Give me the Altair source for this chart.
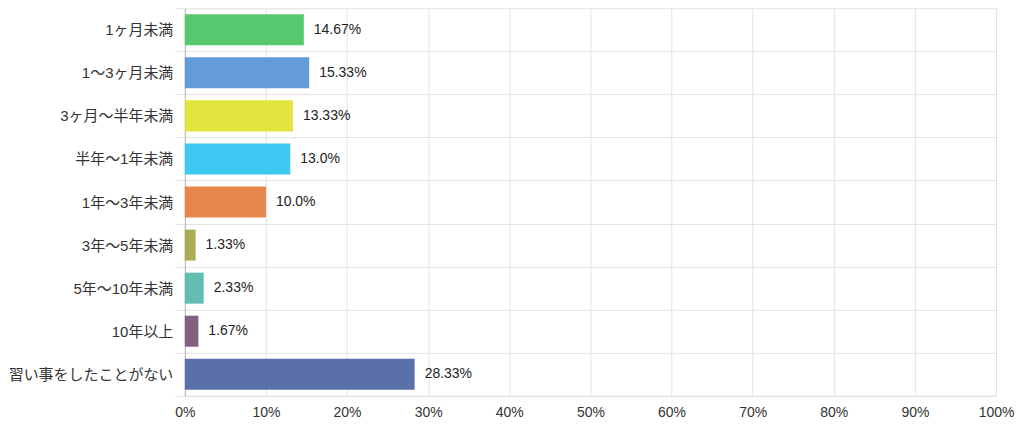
import altair as alt
import pandas as pd

categories = ["1ヶ月未満", "1〜3ヶ月未満", "3ヶ月〜半年未満", "半年〜1年未満", "1年〜3年未満",
              "3年〜5年未満", "5年〜10年未満", "10年以上", "習い事をしたことがない"]
values = [14.67, 15.33, 13.33, 13.0, 10.0, 1.33, 2.33, 1.67, 28.33]
labels = ["14.67%", "15.33%", "13.33%", "13.0%", "10.0%", "1.33%", "2.33%", "1.67%", "28.33%"]
colors = ["#4dc565", "#5b96d9", "#e1e333", "#33c6f1", "#e67f41",
          "#a7a84b", "#5bb9ad", "#7d5877", "#5068a4"]
x_ticks = [0, 10, 20, 30, 40, 50, 60, 70, 80, 90, 100]

df = pd.DataFrame({"cat": categories, "value": values, "label": labels})

FONT = "Liberation Sans, Noto Sans CJK JP, sans-serif"

y_enc = alt.Y(
    "cat:N", sort=categories, title=None,
    scale=alt.Scale(paddingInner=0, paddingOuter=0),
    axis=alt.Axis(tickBand="extent", grid=True, gridColor="#e3e3e3", ticks=True,
                  tickSize=10, tickColor="#e3e3e3", domainColor="#b8b8b8",
                  labelPadding=2, labelFontSize=15, labelColor="#333333",
                  labelFont=FONT, labelLimit=300),
)
x_enc = alt.X(
    "value:Q", title=None,
    scale=alt.Scale(domain=[0, 100], nice=False),
    axis=alt.Axis(values=x_ticks, labelExpr="datum.value + '%'", grid=True,
                  gridColor="#e3e3e3", ticks=False, labelPadding=10, labelFlush=False,
                  domainColor="#dddddd", labelFontSize=14, labelColor="#333333",
                  labelFont=FONT),
)

bars = alt.Chart(df).mark_bar(height=alt.RelativeBandSize(0.72), opacity=0.95).encode(
    x=x_enc, y=y_enc,
    color=alt.Color("cat:N", sort=categories,
                    scale=alt.Scale(domain=categories, range=colors), legend=None),
)

text = alt.Chart(df).mark_text(align="left", baseline="middle", dx=10, fontSize=14,
                               color="#222222", font=FONT).encode(
    x="value:Q", y=alt.Y("cat:N", sort=categories), text="label:N",
)

chart = (bars + text).properties(
    width=812, height=388,
    autosize=alt.AutoSizeParams(type="none"),
    padding={"left": 177, "top": 0, "right": 20, "bottom": 25},
).configure_view(stroke=None)

chart.save("out.html", embed_options={"renderer": "svg", "actions": False})
